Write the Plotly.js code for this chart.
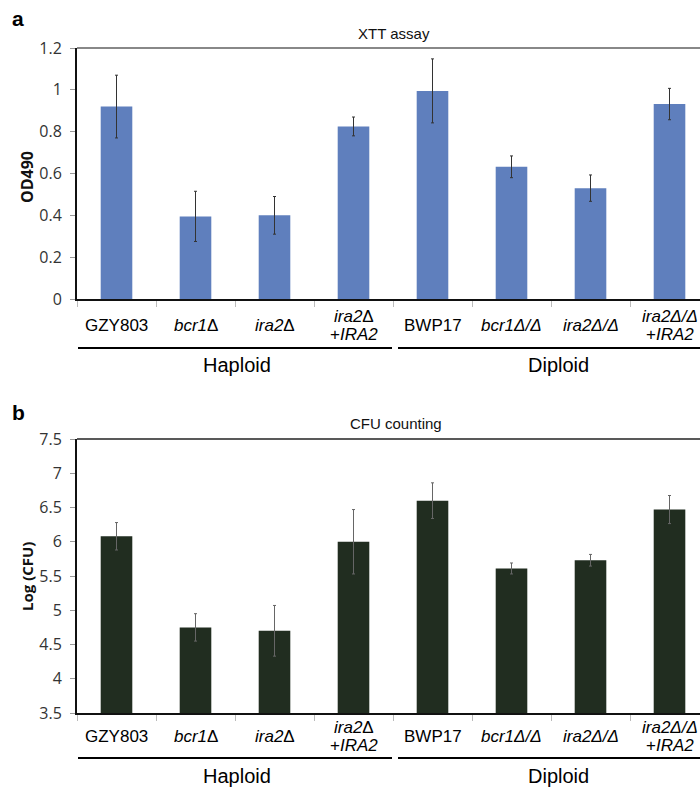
<!DOCTYPE html>
<html>
<head>
<meta charset="utf-8">
<script src="https://cdn.plot.ly/plotly-3.0.1.min.js"></script>
<style>html,body{margin:0;padding:0;background:#fff;overflow:hidden}#chart{width:700px;height:788px}</style>
</head>
<body>
<div id="chart"></div>
<script>
// ---- data ----
const strains = ['GZY803','bcr1Δ','ira2Δ','ira2Δ +IRA2','BWP17','bcr1Δ/Δ','ira2Δ/Δ','ira2Δ/Δ +IRA2'];
const labelLine1 = ['GZY803','<i>bcr1</i>Δ','<i>ira2</i>Δ','<i>ira2</i>Δ','BWP17','<i>bcr1Δ/Δ</i>','<i>ira2Δ/Δ</i>','<i>ira2Δ/Δ</i>'];
const labelLine2 = ['','','','+<i>IRA2</i>','','','','+<i>IRA2</i>'];
const groups = ['Haploid','Diploid'];
const xttMean = [0.92, 0.395, 0.40, 0.825, 0.995, 0.632, 0.53, 0.932];
const xttErr  = [0.15, 0.12, 0.09, 0.045, 0.153, 0.052, 0.063, 0.075];
const cfuMean = [6.08, 4.75, 4.70, 6.00, 6.60, 5.61, 5.73, 6.47];
const cfuErr  = [0.20, 0.20, 0.37, 0.47, 0.26, 0.08, 0.085, 0.205];
const yTicksTop = [0, 0.2, 0.4, 0.6, 0.8, 1, 1.2];
const yTicksBot = [3.5, 4, 4.5, 5, 5.5, 6, 6.5, 7, 7.5];

// ---- layout helpers ----
const W = 700, H = 788;
const px = v => v / W;
const py = v => 1 - v / H;
const idx = strains.map((_, i) => i);
const bounds = idx.map(i => i - 0.5);
const FONT = 'Liberation Sans, Arial, sans-serif';
const TICKFONT = 'Open Sans, sans-serif';

const traces = [
  {type:'bar', x: idx, y: xttMean, xaxis:'x', yaxis:'y', width:0.4,
   marker:{color:'#5f7fbd'},
   error_y:{type:'data', array: xttErr, visible:true, color:'#333', thickness:1, width:1.5},
   hoverinfo:'skip'},
  {type:'bar', x: idx, y: cfuMean, xaxis:'x2', yaxis:'y2', width:0.4,
   marker:{color:'#212d20'},
   error_y:{type:'data', array: cfuErr, visible:true, color:'#666', thickness:1, width:1.5},
   hoverinfo:'skip'}
];

const xRange = [-0.5, 7.386];
function xa(anchor){
  return {domain:[px(77), 1], range:xRange, anchor:anchor, showgrid:false, zeroline:false,
    showline:true, linecolor:'#111', linewidth:2,
    tickmode:'array', tickvals:bounds, showticklabels:false,
    ticks:'outside', ticklen:6, tickcolor:'#bbb', tickwidth:1};
}
function ya(anchor, dom, range, tv){
  return {domain:dom, range:range, anchor:anchor, showgrid:false, zeroline:false,
    showline:true, linecolor:'#111', linewidth:2,
    tickmode:'array', tickvals:tv, ticktext: tv.map(String),
    ticks:'outside', ticklen:5, tickcolor:'#999', tickwidth:1,
    ticklabelstandoff:5,
    tickfont:{family:TICKFONT, size:16, color:'#333'}};
}

const annotations = [];
// panel letters
annotations.push({xref:'paper', yref:'paper', x:px(18), y:py(18), text:'<b>a</b>', showarrow:false,
  xanchor:'center', yanchor:'middle', font:{family:FONT, size:21, color:'#000'}});
annotations.push({xref:'paper', yref:'paper', x:px(18), y:py(412), text:'<b>b</b>', showarrow:false,
  xanchor:'center', yanchor:'middle', font:{family:FONT, size:21, color:'#000'}});
// chart titles
annotations.push({xref:'paper', yref:'paper', x:px(394), y:py(33), text:'XTT assay', showarrow:false,
  xanchor:'center', yanchor:'middle', font:{family:FONT, size:15, color:'#111'}});
annotations.push({xref:'paper', yref:'paper', x:px(396), y:py(423), text:'CFU counting', showarrow:false,
  xanchor:'center', yanchor:'middle', font:{family:FONT, size:15, color:'#111'}});
// y titles
annotations.push({xref:'paper', yref:'paper', x:px(27), y:py(177), text:'<b>OD490</b>', showarrow:false,
  textangle:-90, xanchor:'center', yanchor:'middle', font:{family:TICKFONT, size:16, color:'#111'}});
annotations.push({xref:'paper', yref:'paper', x:px(27), y:py(577), text:'<b>Log (CFU)</b>', showarrow:false,
  textangle:-90, xanchor:'center', yanchor:'middle', font:{family:TICKFONT, size:15, color:'#111'}});

// category labels
function catLabels(xref, single, l1, l2){
  idx.forEach(i => {
    if (labelLine2[i]) {
      annotations.push({xref:xref, yref:'paper', x:i, y:py(l1), text:labelLine1[i], showarrow:false,
        xanchor:'center', yanchor:'middle', font:{family:FONT, size:17, color:'#000'}});
      annotations.push({xref:xref, yref:'paper', x:i, y:py(l2), text:labelLine2[i], showarrow:false,
        xanchor:'center', yanchor:'middle', font:{family:FONT, size:17, color:'#000'}});
    } else {
      annotations.push({xref:xref, yref:'paper', x:i, y:py(single), text:labelLine1[i], showarrow:false,
        xanchor:'center', yanchor:'middle', font:{family:FONT, size:17, color:'#000'}});
    }
  });
}
catLabels('x', 325, 316, 334);
catLabels('x2', 736, 727, 745);

// group labels
[365, 776].forEach(y => {
  annotations.push({xref:'paper', yref:'paper', x:px(237), y:py(y), text:groups[0], showarrow:false,
    xanchor:'center', yanchor:'middle', font:{family:FONT, size:20, color:'#000'}});
  annotations.push({xref:'paper', yref:'paper', x:px(558), y:py(y), text:groups[1], showarrow:false,
    xanchor:'center', yanchor:'middle', font:{family:FONT, size:20, color:'#000'}});
});

const shapes = [
  // top borders
  {type:'line', xref:'paper', yref:'paper', x0:px(77), x1:1, y0:py(48), y1:py(48), line:{color:'#888', width:2}},
  {type:'line', xref:'paper', yref:'paper', x0:px(77), x1:1, y0:py(439), y1:py(439), line:{color:'#222', width:1.5}},
  // group underlines
  {type:'line', xref:'paper', yref:'paper', x0:px(78), x1:px(392), y0:py(348), y1:py(348), line:{color:'#000', width:2}},
  {type:'line', xref:'paper', yref:'paper', x0:px(398), x1:1.05, y0:py(348), y1:py(348), line:{color:'#000', width:2}},
  {type:'line', xref:'paper', yref:'paper', x0:px(78), x1:px(392), y0:py(758), y1:py(758), line:{color:'#000', width:2}},
  {type:'line', xref:'paper', yref:'paper', x0:px(398), x1:1.05, y0:py(758), y1:py(758), line:{color:'#000', width:2}}
];

const layout = {
  width:W, height:H, margin:{l:0, r:0, t:0, b:0, autoexpand:false},
  paper_bgcolor:'#fff', plot_bgcolor:'#fff', showlegend:false,
  xaxis: xa('y'),
  yaxis: ya('x', [py(299), py(48)], [0, 1.2], yTicksTop),
  xaxis2: xa('y2'),
  yaxis2: ya('x2', [py(713), py(439)], [3.5, 7.5], yTicksBot),
  annotations: annotations,
  shapes: shapes
};

Plotly.newPlot('chart', traces, layout, {displayModeBar:false, staticPlot:true});
</script>
</body>
</html>
